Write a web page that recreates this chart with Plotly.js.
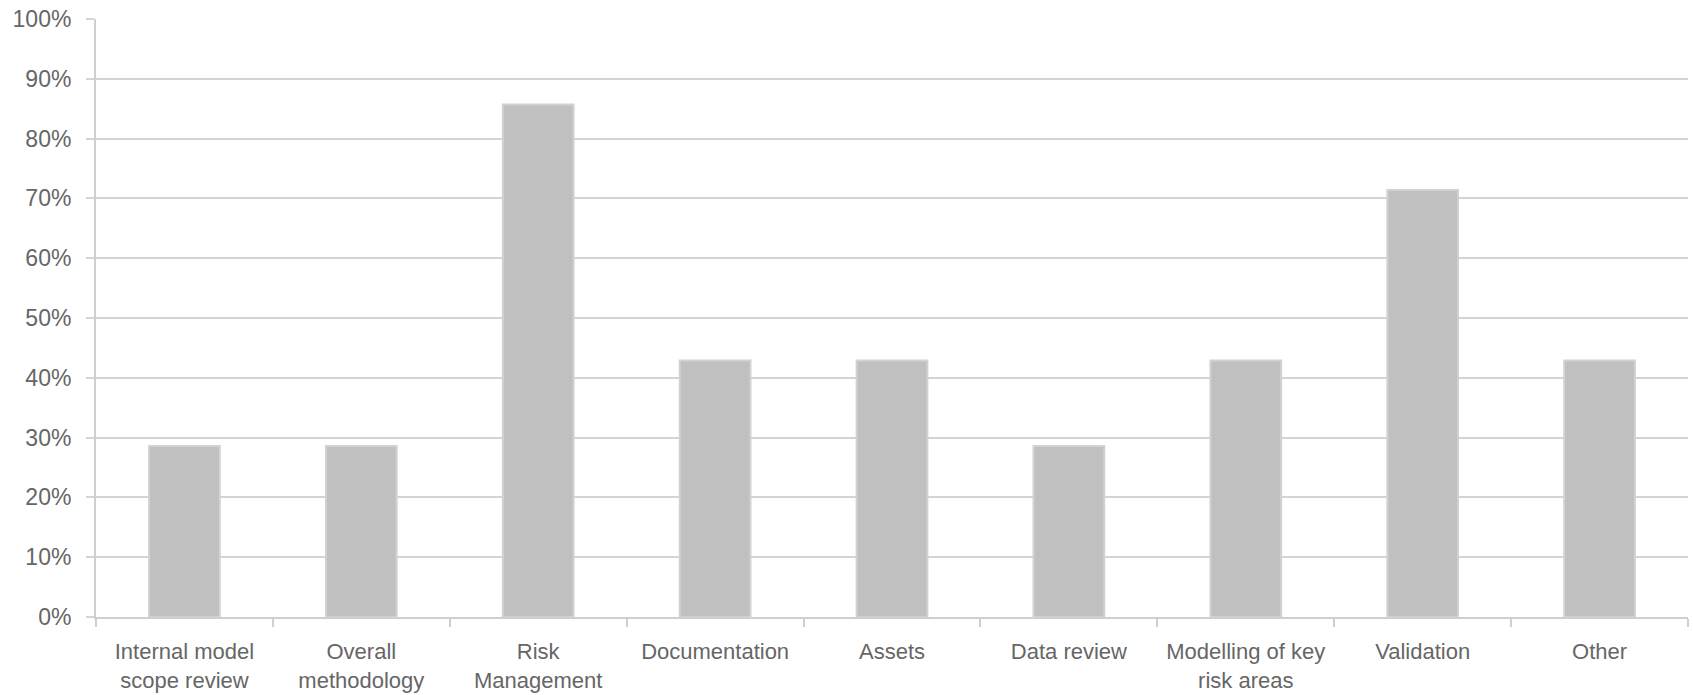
<!DOCTYPE html>
<html>
<head>
<meta charset="utf-8">
<script src="https://cdn.plot.ly/plotly-3.0.1.min.js"></script>
<style>html,body{margin:0;padding:0;background:#fff;}#chart{width:1693px;height:695px;}</style>
</head>
<body>
<div id="chart"></div>
<script>
const categories = [
  "Internal model<br>scope review",
  "Overall<br>methodology",
  "Risk<br>Management",
  "Documentation",
  "Assets",
  "Data review",
  "Modelling of key<br>risk areas",
  "Validation",
  "Other"
];
const values = [28.6, 28.6, 85.7, 42.9, 42.9, 28.6, 42.9, 71.4, 42.9];
const yTickValues = [0, 10, 20, 30, 40, 50, 60, 70, 80, 90, 100];
const yTickLabels = ["0%", "10%", "20%", "30%", "40%", "50%", "60%", "70%", "80%", "90%", "100%"];

const trace = {
  type: 'bar',
  x: categories,
  y: values,
  marker: {color: '#c0c0c0', line: {color: '#d2d2d2', width: 2}},
  hoverinfo: 'x+y'
};

const layout = {
  width: 1693,
  height: 695,
  margin: {l: 96, r: 5, t: 19, b: 78},
  paper_bgcolor: '#ffffff',
  plot_bgcolor: '#ffffff',
  showlegend: false,
  bargap: 0.6,
  font: {family: 'Liberation Sans, Arial, sans-serif', size: 22, color: '#666666'},
  xaxis: {
    type: 'category',
    showgrid: false,
    showline: true,
    linecolor: '#cfcfcf',
    linewidth: 2,
    ticks: 'outside',
    tickson: 'boundaries',
    ticklen: 8,
    tickwidth: 2,
    tickcolor: '#cfcfcf',
    tickfont: {size: 22, color: '#666666'},
    ticklabelstandoff: 14
  },
  yaxis: {
    range: [0, 100],
    tickmode: 'array',
    tickvals: yTickValues,
    ticktext: yTickLabels,
    showgrid: true,
    gridcolor: '#d4d4d4',
    gridwidth: 2,
    zeroline: false,
    showline: true,
    linecolor: '#cfcfcf',
    linewidth: 2,
    ticks: 'outside',
    ticklen: 8,
    tickwidth: 2,
    tickcolor: '#d4d4d4',
    tickfont: {size: 23, color: '#666666'},
    ticklabelstandoff: 10
  }
};

Plotly.newPlot('chart', [trace], layout, {displayModeBar: false, staticPlot: true});
</script>
</body>
</html>
